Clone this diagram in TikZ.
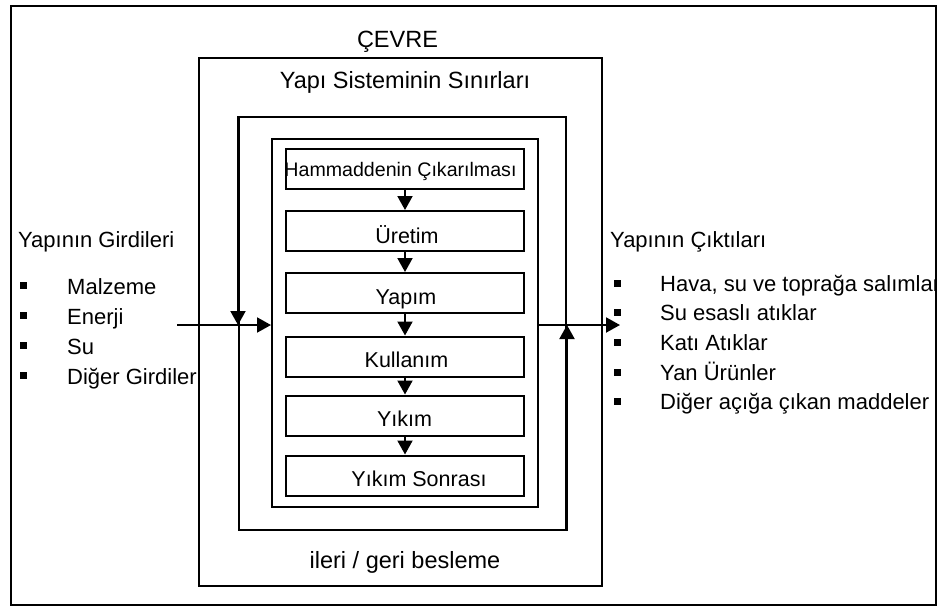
\documentclass[tikz,border=0pt]{standalone}
\usepackage{fontspec}
\setmainfont{Liberation Sans}
\usetikzlibrary{arrows.meta}
\begin{document}
\begin{tikzpicture}[x=1pt,y=-1pt,
  txt/.style={inner sep=0pt,font=\fontsize{22}{26}\selectfont},
  bigtxt/.style={inner sep=0pt,font=\fontsize{23.5}{28}\selectfont},
  stagetxt/.style={inner sep=0pt,anchor=base,font=\fontsize{21.5}{26}\selectfont},
  frame/.style={draw,line width=2pt,inner sep=0pt,minimum width=#1},
  stagebox/.style={draw,line width=2pt,inner sep=0pt,minimum width=238pt,minimum height=40pt},
  flow/.style={line width=2pt,-{Triangle[length=14pt,width=15pt]}},
  bullet/.style={fill=black,inner sep=0pt,minimum size=7pt}]
\useasboundingbox (0,0) rectangle (946,606);

% nested boundaries
\node[frame=403pt,minimum height=528pt] (sys) at (400.5,322) {};
\node[frame=327pt,minimum height=413pt] (fb) at (402.5,323.5) {};
\node[frame=266pt,minimum height=368pt] (inner) at (405,323) {};

% life-cycle stages
\node[stagebox] (s1) at (405,169) {};
\node[stagebox] (s2) at (405,231) {};
\node[stagebox] (s3) at (405,293) {};
\node[stagebox] (s4) at (405,356.5) {};
\node[stagebox] (s5) at (405,415.5) {};
\node[stagebox] (s6) at (405,475.5) {};

\node[stagetxt,font=\fontsize{19.6}{24}\selectfont] (t1) at (400.5,176) {Hammaddenin Çıkarılması};
\node[stagetxt] (t2) at (407,243) {Üretim};
\node[stagetxt] (t3) at (406,304) {Yapım};
\node[stagetxt] (t4) at (406.5,367) {Kullanım};
\node[stagetxt] (t5) at (404.5,426) {Yıkım};
\node[stagetxt] (t6) at (419,486) {Yıkım Sonrası};

\foreach \a/\b in {s1/s2,s2/s3,s3/s4,s4/s5,s5/s6}
  \draw[flow] (\a.south) -- (\b.north);

% inputs, outputs and feedback
\coordinate (inStart) at (177,325);
\coordinate (outEnd) at (620,325);
\draw[flow] (inStart) -- (inStart -| inner.west);
\draw[flow] (inStart -| inner.east) -- (outEnd);
\draw[flow] (fb.north west) -- (fb.north west |- inStart);
\draw[flow] (fb.south east) -- (fb.south east |- inStart);

% titles
\node[bigtxt,anchor=base] (env) at (397.5,47) {ÇEVRE};
\node[bigtxt,anchor=base] (sysl) at (405,88) {Yapı Sisteminin Sınırları};
\node[bigtxt,anchor=base] (fbl) at (405,568) {ileri / geri besleme};

\begin{scope}
\clip (11,6) rectangle (936,605);
% inputs list
\node[txt,anchor=base west] (inh) at (18,247) {Yapının Girdileri};
\foreach \t [count=\i] in {Malzeme,Enerji,Su,Diğer Girdiler}{
  \node[bullet] (ib\i) at (23.5,{294+30*(\i-1)-9}) {};
  \node[txt,anchor=base west] (it\i) at (67,{294+30*(\i-1)}) {\t};
}
% outputs list
\node[txt,anchor=base west] (outh) at (610,247) {Yapının Çıktıları};
\foreach \t [count=\i] in {{Hava, su ve toprağa salımlar},{Su esaslı atıklar},{Katı Atıklar},{Yan Ürünler},{Diğer açığa çıkan maddeler}}{
  \node[bullet] (ob\i) at (617,{291+29.7*(\i-1)-8}) {};
  \node[txt,anchor=base west] (ot\i) at (660,{291+29.7*(\i-1)}) {\t};
}
\end{scope}

% outer frame
\draw[line width=2.5pt] (11,6) rectangle (936,605);
\end{tikzpicture}
\end{document}
